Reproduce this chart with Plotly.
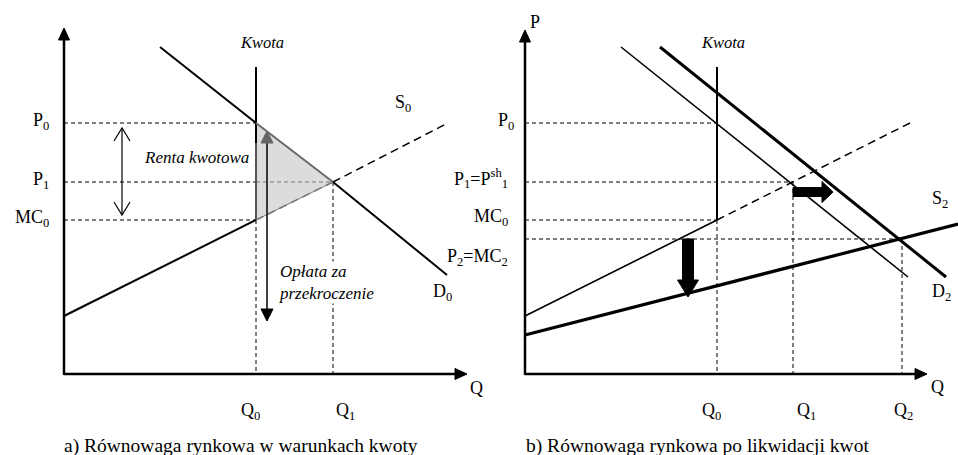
import plotly.graph_objects as go

# ---------------- data (diagram coordinates; y grows downward) ----------------
# Panel a) – equilibrium under quota
a_origin = (64, 374)
a_axis_end = (467, 28)            # x-tip, y-tip
a_price = [123, 182, 220]          # P0, P1, MC0
a_price_lbl = ["P<sub>0</sub>", "P<sub>1</sub>", "MC<sub>0</sub>"]
a_qty = [256, 333]                 # Q0 (quota), Q1
a_qty_lbl = ["Q<sub>0</sub>", "Q<sub>1</sub>"]
a_demand_x = [160, 256, 333, 447]
a_demand_y = [47, 123, 182, 275]
a_supply_x = [64, 256, 333, 448]
a_supply_y = [316, 220, 182, 123]
a_quota_top = 67

# Panel b) – equilibrium after quota abolition
b_origin = (525, 374)
b_axis_end = (927, 30)
b_price = [123, 182, 220, 239]     # P0, P1=Psh1, MC0, P2=MC2
b_price_lbl = ["P<sub>0</sub>", "P<sub>1</sub>=P<sup>sh</sup><sub>1</sub>", "MC<sub>0</sub>", "P<sub>2</sub>=MC<sub>2</sub>"]
b_qty = [717, 793, 902]            # Q0, Q1, Q2
b_qty_lbl = ["Q<sub>0</sub>", "Q<sub>1</sub>", "Q<sub>2</sub>"]
b_d1_x = [621, 908]; b_d1_y = [47, 277]
b_d2_x = [660, 946]; b_d2_y = [47, 277]
b_s0_x = [525, 717, 910]; b_s0_y = [316, 220, 123]
b_s2_x = [525, 958]; b_s2_y = [335, 224]
b_quota_top = 67

FONT = "Liberation Serif"
fig = go.Figure()


def line(xs, ys, width=1.5, color="black", dash=None):
    fig.add_trace(go.Scatter(x=xs, y=ys, mode="lines", hoverinfo="skip",
                             line=dict(color=color, width=width, dash=dash)))


def poly(xs, ys, color="black", fill=None):
    fig.add_trace(go.Scatter(x=xs, y=ys, mode="lines", fill="toself", hoverinfo="skip",
                             fillcolor=fill or color, line=dict(color=color, width=1)))


def head(tip, direction, length, half, color="black"):
    tx, ty = tip
    dx, dy = direction
    bx, by = tx - dx * length, ty - dy * length
    px, py = -dy, dx
    poly([tx, bx + px * half, bx - px * half, tx], [ty, by + py * half, by - py * half, ty], color)


def open_head(tip, direction, length, half, width=1.2):
    tx, ty = tip
    dx, dy = direction
    bx, by = tx - dx * length, ty - dy * length
    px, py = -dy, dx
    line([bx + px * half, tx, bx - px * half], [by + py * half, ty, by - py * half], width)


def block_arrow(start, end, shaft, hl, hw, color="black"):
    sx, sy = start
    ex, ey = end
    L = ((ex - sx) ** 2 + (ey - sy) ** 2) ** 0.5
    dx, dy = (ex - sx) / L, (ey - sy) / L
    px, py = -dy, dx
    bx, by = ex - dx * hl, ey - dy * hl
    xs = [sx + px * shaft / 2, bx + px * shaft / 2, bx + px * hw / 2, ex,
          bx - px * hw / 2, bx - px * shaft / 2, sx - px * shaft / 2, sx + px * shaft / 2]
    ys = [sy + py * shaft / 2, by + py * shaft / 2, by + py * hw / 2, ey,
          by - py * hw / 2, by - py * shaft / 2, sy - py * shaft / 2, sy + py * shaft / 2]
    poly(xs, ys, color)


HELP = "4px,3px"
SDASH = "8px,5px"

# ============================ panel a ============================
ox, oy = a_origin
poly([a_qty[0], a_demand_x[2], a_qty[0], a_qty[0]],
     [a_price[0], a_price[1], a_price[2], a_price[0]], color="#7a7a7a", fill="#dcdcdc")
line([ox, a_qty[0]], [a_price[0]] * 2, 1, dash=HELP)
line([ox, a_qty[0]], [a_price[1]] * 2, 1, dash=HELP)
line([a_qty[0], a_qty[1]], [a_price[1]] * 2, 1, color="#777", dash=HELP)
line([ox, a_qty[0]], [a_price[2]] * 2, 1, dash=HELP)
line([a_qty[0]] * 2, [a_price[2], oy], 1, dash=HELP)
line([a_qty[1]] * 2, [a_price[1], oy], 1, dash=HELP)
line([a_qty[0]] * 2, [a_quota_top, 143], 2)
line([a_qty[0]] * 2, [143, a_price[2]], 2, color="#555")
line(a_demand_x[:2], a_demand_y[:2], 2)
line(a_demand_x[1:3], a_demand_y[1:3], 2, color="#6a6a6a")
line(a_demand_x[2:], a_demand_y[2:], 2)
line(a_supply_x[:2], a_supply_y[:2], 2)
line(a_supply_x[1:3], a_supply_y[1:3], 1.5, color="#777", dash=SDASH)
line(a_supply_x[2:], a_supply_y[2:], 1.5, dash=SDASH)
line([122, 122], [129, 214], 1.2)
open_head((122, 128), (0, -1), 13, 8)
open_head((122, 215), (0, 1), 13, 8)
line([267, 267], [142, 310], 1.5)
head((267, 131), (0, -1), 12, 6, color="#666")
head((267, 321), (0, 1), 12, 6)
line([ox, ox], [oy + 1, a_axis_end[1] + 10], 2.5)
line([ox, a_axis_end[0] - 10], [oy, oy], 2.5)
head((ox, a_axis_end[1]), (0, -1), 12, 5.5)
head((a_axis_end[0], oy), (1, 0), 12, 5.5)

# ============================ panel b ============================
ox, oy = b_origin
line([ox, b_qty[0]], [b_price[0]] * 2, 1, dash=HELP)
line([ox, b_qty[1]], [b_price[1]] * 2, 1, dash=HELP)
line([ox, b_qty[0]], [b_price[2]] * 2, 1, dash=HELP)
line([ox, b_qty[2]], [b_price[3]] * 2, 1, dash=HELP)
line([b_qty[0]] * 2, [b_price[2], oy], 1, dash=HELP)
line([b_qty[1]] * 2, [b_price[1], oy], 1, dash=HELP)
line([b_qty[2]] * 2, [b_price[3], oy], 1, dash=HELP)
line([b_qty[0]] * 2, [b_quota_top, b_price[2]], 2)
line(b_d1_x, b_d1_y, 1.6)
line(b_d2_x, b_d2_y, 3)
line(b_s0_x[:2], b_s0_y[:2], 1.6)
line(b_s0_x[1:], b_s0_y[1:], 1.5, dash=SDASH)
line(b_s2_x, b_s2_y, 3.2)
block_arrow((793, 192), (833, 192), 9, 11, 21)
block_arrow((688, 239), (688, 297), 11, 17, 21)
line([ox, ox], [oy + 1, b_axis_end[1] + 10], 2.5)
line([ox, b_axis_end[0] - 10], [oy, oy], 2.5)
head((ox, b_axis_end[1]), (0, -1), 12, 5.5)
head((b_axis_end[0], oy), (1, 0), 12, 5.5)

# ============================ text ============================
ann = []


def txt(x, y, s, size=18, italic=False, xanchor="center", bg=None):
    ann.append(dict(x=x, y=y, xref="x", yref="y", text=s, showarrow=False,
                    xanchor=xanchor, yanchor="middle", align="left",
                    bgcolor=bg, borderpad=0,
                    font=dict(family=FONT, size=size, color="black",
                              style="italic" if italic else "normal")))


a_lbl_y = [121, 180, 218]
for lbl, yy in zip(a_price_lbl, a_lbl_y):
    txt(50, yy, lbl, xanchor="right")
for q, lbl in zip([250, 345], a_qty_lbl):
    txt(q, 411, lbl)
txt(476, 388, "Q")
txt(262, 42, "Kwota", 16.5, True)
txt(403, 103, "S<sub>0</sub>")
txt(442, 292, "D<sub>0</sub>")
txt(196, 157, "Renta kwotowa", 17, True)
txt(278, 282, "Opłata za<br>przekroczenie", 17, True, xanchor="left", bg="white")
txt(241, 446, "a) Równowaga rynkowa w warunkach kwoty", 19.5)

b_lbl_y = [121, 178, 217, 257]
b_lbl_x = [515, 509, 509, 509]
for lbl, xx, yy in zip(b_price_lbl, b_lbl_x, b_lbl_y):
    txt(xx, yy, lbl, xanchor="right")
for q, lbl in zip([711, 806, 903], b_qty_lbl):
    txt(q, 411, lbl)
txt(937, 387, "Q")
txt(535, 22, "P")
txt(723, 42, "Kwota", 16.5, True)
txt(940, 199, "S<sub>2</sub>")
txt(941, 292, "D<sub>2</sub>")
txt(697, 446, "b) Równowaga rynkowa po likwidacji kwot", 19.5)

fig.update_layout(
    width=958, height=455, margin=dict(l=0, r=0, t=0, b=0),
    paper_bgcolor="white", plot_bgcolor="white", showlegend=False,
    xaxis=dict(range=[0, 958], visible=False, fixedrange=True),
    yaxis=dict(range=[455, 0], visible=False, fixedrange=True),
    annotations=ann,
)
fig.write_html("out.html", config={"displayModeBar": False},
               post_script="document.body.style.margin='0';")
